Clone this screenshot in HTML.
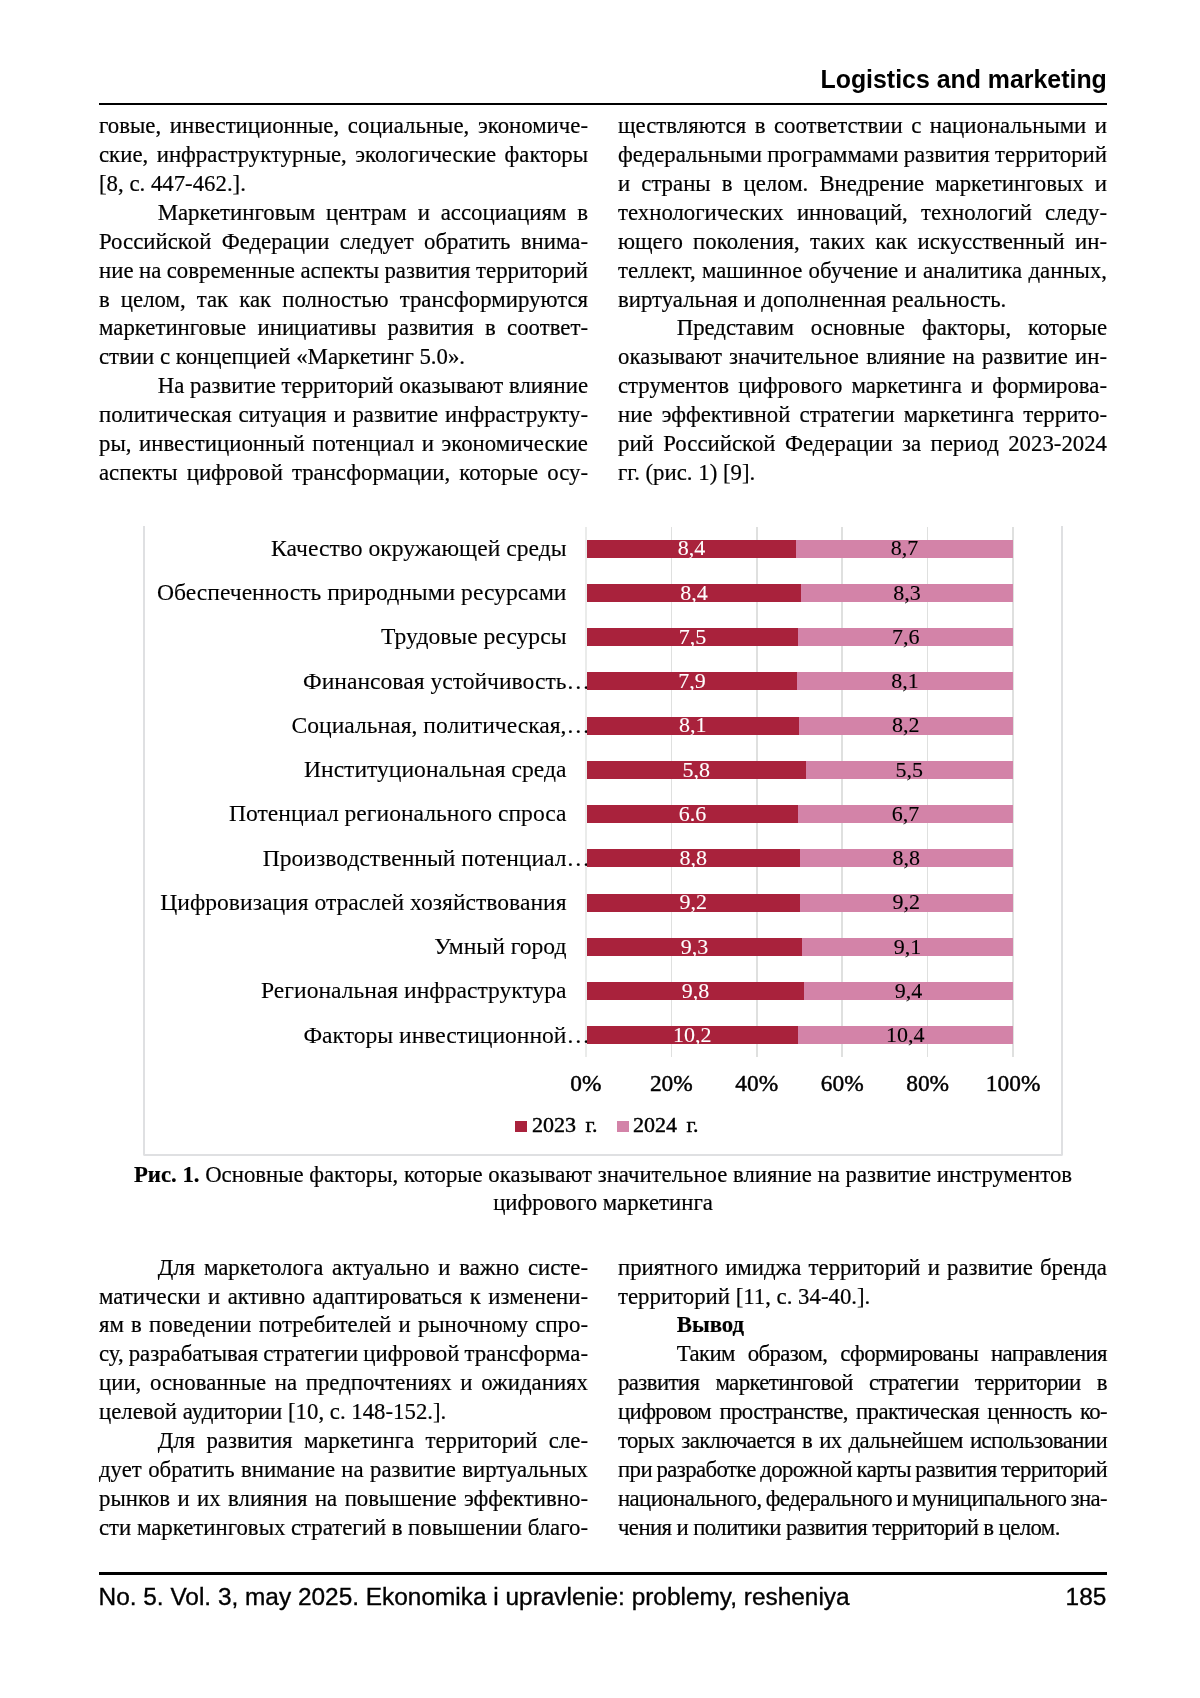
<!DOCTYPE html>
<html lang="ru"><head><meta charset="utf-8"><title>page</title>
<style>
*{margin:0;padding:0;box-sizing:border-box}
html,body{width:1200px;height:1698px;background:#fff;overflow:hidden}
body{position:relative;font-family:"Liberation Serif",serif;color:#000}
#pg{position:absolute;left:0;top:0;width:1200px;height:1698px;will-change:transform}
.col,.cap{-webkit-text-stroke:0.2px currentColor}
.al,.lg{-webkit-text-stroke:0.45px currentColor}
.cl{-webkit-text-stroke:0.12px currentColor}
.dl{-webkit-text-stroke:0.1px currentColor}
.hdr{position:absolute;right:93.20000000000005px;top:65.06px;font:bold 24.9px/1.2 "Liberation Sans",sans-serif;white-space:nowrap;letter-spacing:0px}
.rule{position:absolute;left:99px;width:1008px;background:#000}
.col{position:absolute;font-size:22.8px;line-height:28.89px}
.col div{white-space:nowrap;height:28.89px}
.j{text-align:justify;text-align-last:justify}
.l{text-align:left}
.frame{position:absolute;border:2px solid #dfe0e2;border-top:none;border-radius:0 0 2px 2px}
.grid{position:absolute;background:#dfe0df}
.bar{position:absolute;z-index:2}
.el{position:absolute;left:100%;top:0;margin-left:0px}
.r{background:#a9223c}
.p{background:#d383a8}
.dl{position:absolute;z-index:3;text-align:center;font-size:22px;line-height:1.2;white-space:nowrap}
.cl{position:absolute;font-size:23.6px;line-height:1.2;white-space:nowrap;text-align:right}
.al{position:absolute;width:100px;text-align:center;font-size:23.4px;line-height:1.2;white-space:nowrap}
.lg{position:absolute;font-size:22px;line-height:1.2;white-space:nowrap;word-spacing:4px}
.sq{position:absolute;width:12px;height:11px}
.cap{position:absolute;left:0;width:1200px;text-align:center;font-size:22.75px;line-height:28.6px;white-space:nowrap}
.ftr{position:absolute;-webkit-text-stroke:0.35px #000;font:24.41px/1.2 "Liberation Sans",sans-serif;white-space:nowrap}
</style></head><body><div id="pg">
<div class="hdr">Logistics and marketing</div>
<div class="rule" style="top:102.55px;height:2.95px"></div>
<div class="col" style="left:99px;top:112.36px;width:489px">
<div class="j" style="">говые, инвестиционные, социальные, экономиче-</div>
<div class="j" style="">ские, инфраструктурные, экологические факторы</div>
<div class="l" style="">[8, с. 447-462.].</div>
<div class="j" style="text-indent:58.7px;">Маркетинговым центрам и ассоциациям в</div>
<div class="j" style="">Российской Федерации следует обратить внима-</div>
<div class="j" style="word-spacing:-1.5px;letter-spacing:0.000px;">ние на современные аспекты развития территорий</div>
<div class="j" style="">в целом, так как полностью трансформируются</div>
<div class="j" style="">маркетинговые инициативы развития в соответ-</div>
<div class="l" style="">ствии с концепцией «Маркетинг 5.0».</div>
<div class="j" style="text-indent:58.7px;word-spacing:-1.5px;letter-spacing:0.000px;">На развитие территорий оказывают влияние</div>
<div class="j" style="">политическая ситуация и развитие инфраструкту-</div>
<div class="j" style="">ры, инвестиционный потенциал и экономические</div>
<div class="j" style="">аспекты цифровой трансформации, которые осу-</div>
</div>
<div class="col" style="left:618px;top:112.36px;width:489px">
<div class="j" style="">ществляются в соответствии с национальными и</div>
<div class="j" style="word-spacing:-1.5px;letter-spacing:0.000px;">федеральными программами развития территорий</div>
<div class="j" style="">и страны в целом. Внедрение маркетинговых и</div>
<div class="j" style="">технологических инноваций, технологий следу-</div>
<div class="j" style="">ющего поколения, таких как искусственный ин-</div>
<div class="j" style="">теллект, машинное обучение и аналитика данных,</div>
<div class="l" style="">виртуальная и дополненная реальность.</div>
<div class="j" style="text-indent:58.7px;">Представим основные факторы, которые</div>
<div class="j" style="">оказывают значительное влияние на развитие ин-</div>
<div class="j" style="">струментов цифрового маркетинга и формирова-</div>
<div class="j" style="">ние эффективной стратегии маркетинга террито-</div>
<div class="j" style="">рий Российской Федерации за период 2023-2024</div>
<div class="l" style="">гг. (рис. 1) [9].</div>
</div>
<div class="frame" style="left:143.0px;top:526px;width:920.4px;height:629.5px"></div>
<div class="grid" style="left:585.10px;top:527px;height:530.3px;width:1.6px;background:#eaebea"></div>
<div class="grid" style="left:670.54px;top:527px;height:530.3px;width:1.6px;background:#dfe0df"></div>
<div class="grid" style="left:755.98px;top:527px;height:530.3px;width:1.6px;background:#dfe0df"></div>
<div class="grid" style="left:841.42px;top:527px;height:530.3px;width:1.6px;background:#dfe0df"></div>
<div class="grid" style="left:926.86px;top:527px;height:530.3px;width:1.6px;background:#dfe0df"></div>
<div class="grid" style="left:1012.30px;top:527px;height:530.3px;width:1.6px;background:#dfe0df"></div>
<div class="bar r" style="left:586.8px;top:539.60px;width:209.31px;height:18px"></div>
<div class="bar p" style="left:796.11px;top:539.60px;width:216.79px;height:18px"></div>
<div class="dl" style="left:586.80px;width:209.31px;top:535.38px;color:#fff">8,4</div>
<div class="dl" style="left:796.11px;width:216.79px;top:535.38px;color:#000">8,7</div>
<div class="cl" style="right:633.50px;top:533.88px">Качество окружающей среды</div>
<div class="bar r" style="left:586.8px;top:583.85px;width:214.33px;height:18px"></div>
<div class="bar p" style="left:801.13px;top:583.85px;width:211.77px;height:18px"></div>
<div class="dl" style="left:586.80px;width:214.33px;top:579.62px;color:#fff">8,4</div>
<div class="dl" style="left:801.13px;width:211.77px;top:579.62px;color:#000">8,3</div>
<div class="cl" style="right:633.50px;top:578.12px">Обеспеченность природными ресурсами</div>
<div class="bar r" style="left:586.8px;top:628.10px;width:211.64px;height:18px"></div>
<div class="bar p" style="left:798.44px;top:628.10px;width:214.46px;height:18px"></div>
<div class="dl" style="left:586.80px;width:211.64px;top:623.88px;color:#fff">7,5</div>
<div class="dl" style="left:798.44px;width:214.46px;top:623.88px;color:#000">7,6</div>
<div class="cl" style="right:633.50px;top:622.38px">Трудовые ресурсы</div>
<div class="bar r" style="left:586.8px;top:672.35px;width:210.39px;height:18px"></div>
<div class="bar p" style="left:797.19px;top:672.35px;width:215.71px;height:18px"></div>
<div class="dl" style="left:586.80px;width:210.39px;top:668.12px;color:#fff">7,9</div>
<div class="dl" style="left:797.19px;width:215.71px;top:668.12px;color:#000">8,1</div>
<div class="cl" style="right:633.50px;top:666.62px">Финансовая устойчивость<span class="el">…</span></div>
<div class="bar r" style="left:586.8px;top:716.60px;width:211.74px;height:18px"></div>
<div class="bar p" style="left:798.54px;top:716.60px;width:214.36px;height:18px"></div>
<div class="dl" style="left:586.80px;width:211.74px;top:712.38px;color:#fff">8,1</div>
<div class="dl" style="left:798.54px;width:214.36px;top:712.38px;color:#000">8,2</div>
<div class="cl" style="right:633.50px;top:710.88px">Социальная, политическая,<span class="el">…</span></div>
<div class="bar r" style="left:586.8px;top:760.85px;width:218.71px;height:18px"></div>
<div class="bar p" style="left:805.51px;top:760.85px;width:207.39px;height:18px"></div>
<div class="dl" style="left:586.80px;width:218.71px;top:756.62px;color:#fff">5,8</div>
<div class="dl" style="left:805.51px;width:207.39px;top:756.62px;color:#000">5,5</div>
<div class="cl" style="right:633.50px;top:755.12px">Институциональная среда</div>
<div class="bar r" style="left:586.8px;top:805.10px;width:211.45px;height:18px"></div>
<div class="bar p" style="left:798.25px;top:805.10px;width:214.65px;height:18px"></div>
<div class="dl" style="left:586.80px;width:211.45px;top:800.88px;color:#fff">6.6</div>
<div class="dl" style="left:798.25px;width:214.65px;top:800.88px;color:#000">6,7</div>
<div class="cl" style="right:633.50px;top:799.38px">Потенциал регионального спроса</div>
<div class="bar r" style="left:586.8px;top:849.35px;width:213.05px;height:18px"></div>
<div class="bar p" style="left:799.85px;top:849.35px;width:213.05px;height:18px"></div>
<div class="dl" style="left:586.80px;width:213.05px;top:845.12px;color:#fff">8,8</div>
<div class="dl" style="left:799.85px;width:213.05px;top:845.12px;color:#000">8,8</div>
<div class="cl" style="right:633.50px;top:843.62px">Производственный потенциал<span class="el">…</span></div>
<div class="bar r" style="left:586.8px;top:893.60px;width:213.05px;height:18px"></div>
<div class="bar p" style="left:799.85px;top:893.60px;width:213.05px;height:18px"></div>
<div class="dl" style="left:586.80px;width:213.05px;top:889.38px;color:#fff">9,2</div>
<div class="dl" style="left:799.85px;width:213.05px;top:889.38px;color:#000">9,2</div>
<div class="cl" style="right:633.50px;top:887.88px">Цифровизация отраслей хозяйствования</div>
<div class="bar r" style="left:586.8px;top:937.85px;width:215.37px;height:18px"></div>
<div class="bar p" style="left:802.17px;top:937.85px;width:210.73px;height:18px"></div>
<div class="dl" style="left:586.80px;width:215.37px;top:933.62px;color:#fff">9,3</div>
<div class="dl" style="left:802.17px;width:210.73px;top:933.62px;color:#000">9,1</div>
<div class="cl" style="right:633.50px;top:932.12px">Умный город</div>
<div class="bar r" style="left:586.8px;top:982.10px;width:217.49px;height:18px"></div>
<div class="bar p" style="left:804.29px;top:982.10px;width:208.61px;height:18px"></div>
<div class="dl" style="left:586.80px;width:217.49px;top:977.88px;color:#fff">9,8</div>
<div class="dl" style="left:804.29px;width:208.61px;top:977.88px;color:#000">9,4</div>
<div class="cl" style="right:633.50px;top:976.38px">Региональная инфраструктура</div>
<div class="bar r" style="left:586.8px;top:1026.35px;width:210.98px;height:18px"></div>
<div class="bar p" style="left:797.78px;top:1026.35px;width:215.12px;height:18px"></div>
<div class="dl" style="left:586.80px;width:210.98px;top:1022.12px;color:#fff">10,2</div>
<div class="dl" style="left:797.78px;width:215.12px;top:1022.12px;color:#000">10,4</div>
<div class="cl" style="right:633.50px;top:1020.62px">Факторы инвестиционной<span class="el">…</span></div>
<div class="al" style="left:535.90px;top:1068.66px">0%</div>
<div class="al" style="left:621.34px;top:1068.66px">20%</div>
<div class="al" style="left:706.78px;top:1068.66px">40%</div>
<div class="al" style="left:792.22px;top:1068.66px">60%</div>
<div class="al" style="left:877.66px;top:1068.66px">80%</div>
<div class="al" style="left:963.10px;top:1068.66px">100%</div>
<div class="sq r" style="left:515px;top:1120.5px"></div>
<div class="lg" style="left:532px;top:1112.38px">2023 г.</div>
<div class="sq p" style="left:616.5px;top:1120.5px"></div>
<div class="lg" style="left:633px;top:1112.38px">2024 г.</div>
<div class="cap" style="top:1160.52px;padding-left:6px;word-spacing:0px"><b>Рис. 1.</b> Основные факторы, которые оказывают значительное влияние на развитие инструментов<br>цифрового маркетинга</div>
<div class="col" style="left:99px;top:1253.66px;width:489px">
<div class="j" style="text-indent:58.7px;">Для маркетолога актуально и важно систе-</div>
<div class="j" style="">матически и активно адаптироваться к изменени-</div>
<div class="j" style="">ям в поведении потребителей и рыночному спро-</div>
<div class="j" style="word-spacing:-1.5px;letter-spacing:0.000px;">су, разрабатывая стратегии цифровой трансформа-</div>
<div class="j" style="">ции, основанные на предпочтениях и ожиданиях</div>
<div class="l" style="">целевой аудитории [10, с. 148-152.].</div>
<div class="j" style="text-indent:58.7px;">Для развития маркетинга территорий сле-</div>
<div class="j" style="">дует обратить внимание на развитие виртуальных</div>
<div class="j" style="">рынков и их влияния на повышение эффективно-</div>
<div class="j" style="word-spacing:-1.5px;letter-spacing:0.000px;">сти маркетинговых стратегий в повышении благо-</div>
</div>
<div class="col" style="left:618px;top:1253.66px;width:489px">
<div class="j" style="">приятного имиджа территорий и развитие бренда</div>
<div class="l" style="">территорий [11, с. 34-40.].</div>
<div class="l" style="text-indent:58.7px;"><b>Вывод</b></div>
<div class="j" style="text-indent:58.7px;letter-spacing:-0.6px;">Таким образом, сформированы направления</div>
<div class="j" style="letter-spacing:-0.6px;">развития маркетинговой стратегии территории в</div>
<div class="j" style="letter-spacing:-0.6px;">цифровом пространстве, практическая ценность ко-</div>
<div class="j" style="letter-spacing:-0.6px;">торых заключается в их дальнейшем использовании</div>
<div class="j" style="letter-spacing:-0.6px;word-spacing:-1.5px;letter-spacing:-0.600px;">при разработке дорожной карты развития территорий</div>
<div class="j" style="letter-spacing:-0.6px;word-spacing:-1.5px;letter-spacing:-0.600px;">национального, федерального и муниципального зна-</div>
<div class="l" style="letter-spacing:-0.6px;">чения и политики развития территорий в целом.</div>
</div>
<div class="rule" style="top:1572.4px;height:2.95px"></div>
<div class="ftr" style="left:98.5px;top:1582.12px">No. 5. Vol. 3, may 2025. Ekonomika i upravlenie: problemy, resheniya</div>
<div class="ftr" style="right:93.70000000000005px;top:1582.12px">185</div>
</div></body></html>
